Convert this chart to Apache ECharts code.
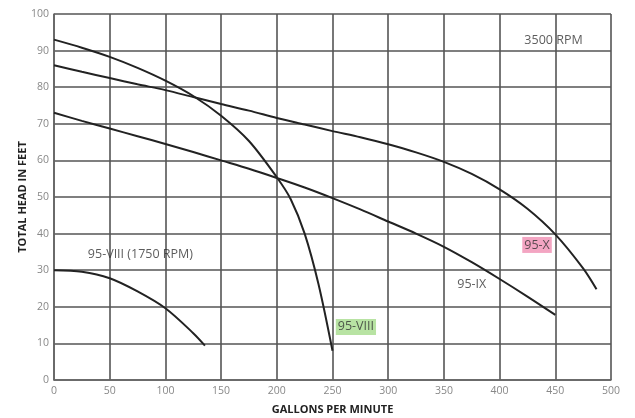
<!DOCTYPE html>
<html><head><meta charset="utf-8">
<script src="https://cdn.jsdelivr.net/npm/echarts@6/dist/echarts.min.js"></script>
<style>html,body{margin:0;padding:0;background:#fff}#c{width:635px;height:418px}</style>
</head><body><div id="c"></div>
<script>
// GPM vs total head (feet)
const curve95VIII = [[0,93],[25,90.8],[50,88.3],[75,85.3],[100,81.8],[125,77.6],[150,72.2],[175,65.3],[200,55.4],[212.5,49.4],[225,40],[237.5,26.1],[250,8]];
const curve95X = [[0,86],[25,84.2],[50,82.5],[75,80.8],[100,79.2],[125,77.3],[150,75.4],[175,73.6],[200,71.6],[225,69.8],[250,68],[275,66.3],[300,64.4],[325,62.2],[350,59.6],[375,56.3],[400,52.1],[425,46.8],[450,39.8],[475,30.5],[487,24.8]];
const curve95IX = [[0,73],[25,70.8],[50,68.7],[75,66.6],[100,64.5],[125,62.3],[150,60],[175,57.7],[200,55.2],[225,52.6],[250,49.7],[275,46.6],[300,43.3],[325,40],[350,36.4],[375,32.2],[400,27.6],[425,22.8],[450,17.8]];
const curve95VIII1750 = [[0,30],[25,29.6],[50,27.8],[75,24.2],[100,19.6],[125,12.8],[135.5,9.4]];
const annotations = [
  {x:448.4, y:92.9, text:'3500 RPM', bg:'transparent'},
  {x:77.6, y:34.2, text:'95-VIII (1750 RPM)', bg:'transparent'},
  {x:433.6, y:36.9, text:'95-X', bg:'#f08fb3'},
  {x:375, y:26.2, text:'95-IX', bg:'transparent'},
  {x:271, y:14.5, text:'95-VIII', bg:'#a6dc8c'}
];
const xTicks = {min:0, max:500, interval:50};
const yTicks = {min:0, max:100, interval:10};

const lineSeries = (data) => ({
  type:'line', data, showSymbol:false, smooth:0.3,
  lineStyle:{color:'#222', width:2}, silent:true, z:3
});
const chart = echarts.init(document.getElementById('c'));
chart.setOption({
  animation:false,
  textStyle:{fontFamily:'Open Sans'},
  grid:{left:54, right:24, top:14, bottom:38, containLabel:false, outerBoundsMode:'none'},
  xAxis:{type:'value', min:xTicks.min, max:xTicks.max, interval:xTicks.interval,
    name:'GALLONS PER MINUTE', nameLocation:'middle', nameGap:24, nameMoveOverlap:false,
    nameTextStyle:{fontWeight:'bold', fontSize:11, color:'#222'},
    axisLine:{show:true, lineStyle:{color:'#666', width:1.5}},
    axisTick:{show:false},
    axisLabel:{color:'#888', fontSize:10.5, margin:6},
    splitLine:{show:true, lineStyle:{color:'#555', width:1.6}}},
  yAxis:{type:'value', min:yTicks.min, max:yTicks.max, interval:yTicks.interval,
    name:'TOTAL HEAD IN FEET', nameLocation:'middle', nameGap:26, nameMoveOverlap:false,
    nameTextStyle:{fontWeight:'bold', fontSize:11, color:'#222'},
    axisLine:{show:true, lineStyle:{color:'#666', width:1.5}},
    axisTick:{show:false},
    axisLabel:{color:'#888', fontSize:10.5, margin:5},
    splitLine:{show:true, lineStyle:{color:'#555', width:1.6}}},
  series:[
    lineSeries(curve95VIII), lineSeries(curve95X), lineSeries(curve95IX), lineSeries(curve95VIII1750),
    {type:'scatter', symbolSize:0, silent:true, z:5,
      data: annotations.map(a => ({value:[a.x, a.y], label:{show:true, position:'inside', formatter:a.text,
        color:'#333', fontSize:12.5, backgroundColor:a.bg, padding:[2,2,1,2]}}))}
  ]
});
</script></body></html>
